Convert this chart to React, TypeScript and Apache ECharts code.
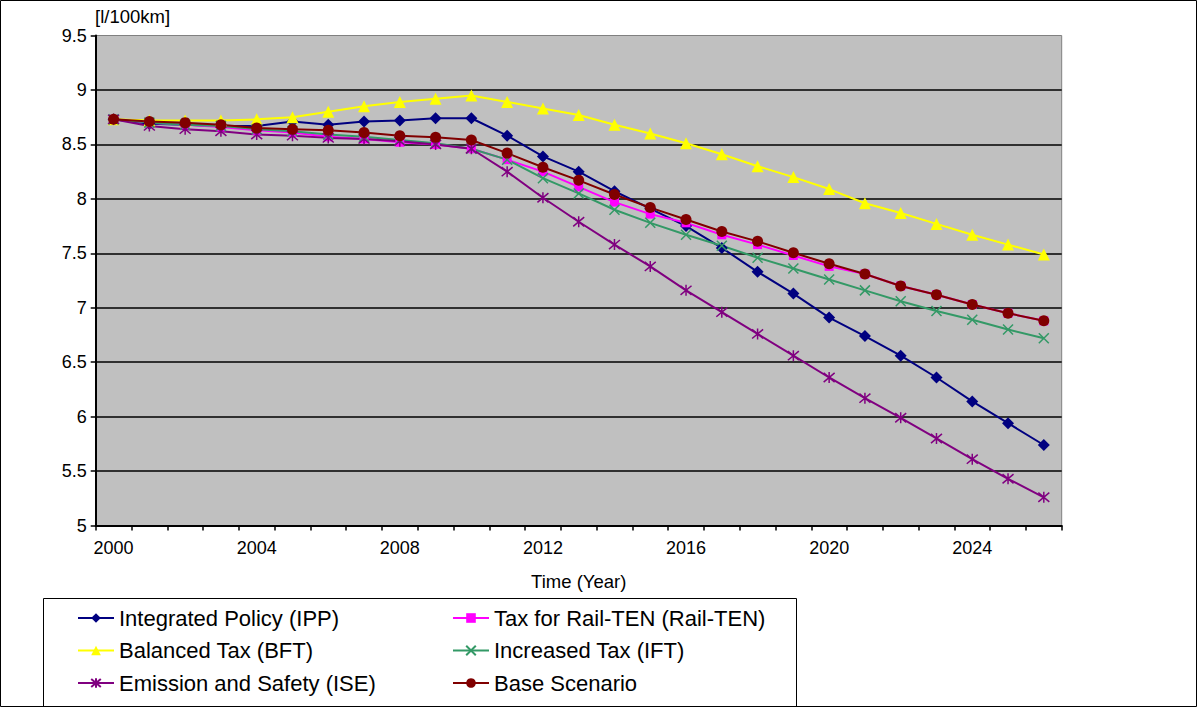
import React, { useEffect, useRef } from "react";
import * as echarts from "echarts";

// Fuel consumption per scenario, 2000–2026
const years = [
  "2000", "2001", "2002", "2003", "2004", "2005", "2006", "2007", "2008", "2009",
  "2010", "2011", "2012", "2013", "2014", "2015", "2016", "2017", "2018", "2019",
  "2020", "2021", "2022", "2023", "2024", "2025", "2026",
];

const ipp = [
  8.73, 8.69, 8.68, 8.67, 8.67, 8.71, 8.68, 8.71, 8.72, 8.74,
  8.74, 8.58, 8.39, 8.25, 8.07, 7.91, 7.75, 7.55, 7.33, 7.13,
  6.91, 6.74, 6.56, 6.36, 6.14, 5.94, 5.74,
];
const railTen = [
  8.73, 8.70, 8.68, 8.66, 8.63, 8.61, 8.57, 8.55, 8.52, 8.50,
  8.46, 8.36, 8.25, 8.11, 7.97, 7.86, 7.78, 7.67, 7.58, 7.48,
  7.38, 7.31, 7.20, 7.12, 7.03, 6.95, 6.88,
];
const bft = [
  8.73, 8.72, 8.72, 8.72, 8.73, 8.75, 8.80, 8.85, 8.89, 8.92,
  8.95, 8.89, 8.83, 8.77, 8.68, 8.60, 8.51, 8.41, 8.30, 8.20,
  8.09, 7.96, 7.87, 7.77, 7.67, 7.58, 7.49,
];
const ift = [
  8.73, 8.70, 8.68, 8.67, 8.64, 8.62, 8.59, 8.57, 8.54, 8.51,
  8.46, 8.36, 8.19, 8.05, 7.90, 7.78, 7.67, 7.57, 7.46, 7.36,
  7.26, 7.16, 7.06, 6.97, 6.89, 6.80, 6.72,
];
const ise = [
  8.73, 8.67, 8.64, 8.62, 8.59, 8.58, 8.56, 8.55, 8.53, 8.50,
  8.46, 8.25, 8.01, 7.79, 7.58, 7.38, 7.16, 6.96, 6.76, 6.56,
  6.36, 6.17, 5.99, 5.80, 5.61, 5.43, 5.26,
];
const base = [
  8.73, 8.71, 8.70, 8.68, 8.65, 8.64, 8.63, 8.61, 8.58, 8.565,
  8.54, 8.42, 8.29, 8.17, 8.04, 7.92, 7.81, 7.70, 7.61, 7.505,
  7.405, 7.31, 7.20, 7.12, 7.03, 6.95, 6.88,
];

const names = {
  ipp: "Integrated Policy (IPP)",
  rail: "Tax for Rail-TEN (Rail-TEN)",
  bft: "Balanced Tax (BFT)",
  ift: "Increased Tax (IFT)",
  ise: "Emission and Safety (ISE)",
  base: "Base Scenario",
};

const FONT = "'Liberation Sans', Arial, sans-serif";

const crossSymbol = "path://M0 0L10 10M10 0L0 10";
const starSymbol = "path://M0 0L10 10M10 0L0 10M5 -1L5 11";

function makeSeries(
  name: string,
  data: number[],
  color: string,
  symbol: string,
  size: number,
  strokeOnly = false
) {
  return {
    name,
    type: "line",
    data,
    symbol,
    symbolSize: size,
    showSymbol: true,
    lineStyle: { color, width: 2 },
    itemStyle: strokeOnly
      ? { color: "none", borderColor: color, borderWidth: 1.5 }
      : { color, borderColor: color, borderWidth: 0 },
    emphasis: { disabled: true },
  };
}

export default function App() {
  const ref = useRef<HTMLDivElement>(null);

  useEffect(() => {
    if (!ref.current) return;
    const chart = echarts.init(ref.current, undefined, { renderer: "svg" });

    const legendCommon = {
      orient: "vertical",
      padding: 0,
      itemWidth: 36,
      itemHeight: 12,
      itemGap: 10.5,
      textStyle: { fontFamily: FONT, fontSize: 22, color: "#000", lineHeight: 22 },
      selectedMode: false,
    };

    chart.setOption({
      animation: false,
      backgroundColor: "#fff",
      grid: {
        left: 95.7,
        right: 135.3,
        top: 35.5,
        bottom: 181.4,
        show: true,
        backgroundColor: "#C0C0C0",
        borderColor: "#808080",
        borderWidth: 1,
      },
      xAxis: {
        type: "category",
        data: years,
        boundaryGap: true,
        name: "Time (Year)",
        nameLocation: "middle",
        nameGap: 46,
        nameTextStyle: { fontFamily: FONT, fontSize: 18.5, color: "#000" },
        axisLine: { lineStyle: { color: "#000", width: 2 } },
        axisTick: { show: true, interval: 0, length: 5, lineStyle: { color: "#000", width: 1.5 } },
        axisLabel: { interval: 3, fontFamily: FONT, fontSize: 18, color: "#000", margin: 13 },
        splitLine: { show: false },
      },
      yAxis: {
        type: "value",
        min: 5,
        max: 9.5,
        interval: 0.5,
        axisLine: { show: true, lineStyle: { color: "#000", width: 2 } },
        axisTick: { show: true, length: 5, lineStyle: { color: "#000", width: 1.5 } },
        axisLabel: { fontFamily: FONT, fontSize: 18, color: "#000", margin: 9 },
        splitLine: { show: true, showMaxLine: false, lineStyle: { color: "#000", width: 1.5 } },
      },
      legend: [
        {
          ...legendCommon,
          left: 77,
          top: 607,
          data: [names.ipp, names.bft, names.ise],
        },
        {
          ...legendCommon,
          left: 452,
          top: 607,
          data: [names.rail, names.ift, names.base],
        },
      ],
      graphic: [
        {
          type: "rect",
          shape: { x: 0.5, y: 0.5, width: 1196, height: 706 },
          style: { fill: "none", stroke: "#000", lineWidth: 1 },
          z: -1,
        },
        {
          type: "rect",
          shape: { x: 43.5, y: 598.5, width: 753, height: 110 },
          style: { fill: "none", stroke: "#000", lineWidth: 1 },
        },
        {
          type: "text",
          left: 95,
          top: 7,
          style: { text: "[l/100km]", fontFamily: FONT, fontSize: 18.5, fill: "#000" },
        },
      ],
      series: [
        makeSeries(names.ipp, ipp, "#000080", "diamond", 12),
        makeSeries(names.rail, railTen, "#FF00FF", "rect", 9),
        makeSeries(names.bft, bft, "#FFFF00", "triangle", 12),
        makeSeries(names.ift, ift, "#339966", crossSymbol, 10, true),
        makeSeries(names.ise, ise, "#800080", starSymbol, 11, true),
        makeSeries(names.base, base, "#800000", "circle", 11),
      ],
    });

    return () => chart.dispose();
  }, []);

  return (
    <div
      ref={ref}
      style={{ position: "absolute", left: 0, top: 0, width: 1197, height: 707 }}
    />
  );
}
